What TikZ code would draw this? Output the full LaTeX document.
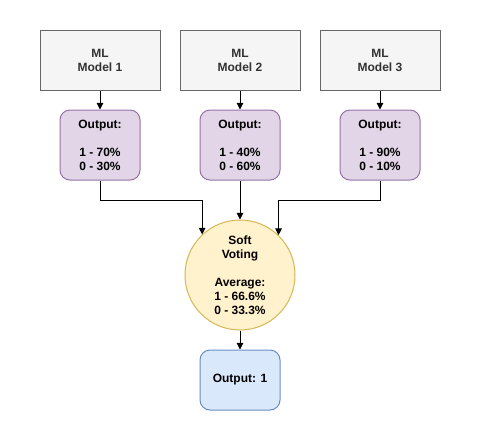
\documentclass[tikz,border=0pt]{standalone}
\usepackage{fontspec}
\setmainfont{Liberation Sans}
\usetikzlibrary{arrows.meta}
\definecolor{grayfill}{HTML}{F5F5F5}
\definecolor{graydraw}{HTML}{666666}
\definecolor{graytext}{HTML}{333333}
\definecolor{purplefill}{HTML}{E1D5E7}
\definecolor{purpledraw}{HTML}{9673A6}
\definecolor{yellowfill}{HTML}{FFF2CC}
\definecolor{yellowdraw}{HTML}{D6B656}
\definecolor{bluefill}{HTML}{DAE8FC}
\definecolor{bluedraw}{HTML}{6C8EBF}
\tikzset{
  base/.style={align=center, inner sep=0pt, line width=0.75pt,
    font=\fontsize{9pt}{10.5pt}\selectfont\bfseries},
  model/.style={base, rectangle, fill=grayfill, draw=graydraw, text=graytext,
    minimum width=90pt, minimum height=45pt},
  outbox/.style={base, rectangle, rounded corners=7.5pt, fill=purplefill, draw=purpledraw,
    minimum width=60pt, minimum height=52.5pt},
  voter/.style={base, circle, fill=yellowfill, draw=yellowdraw, minimum size=82.5pt},
  final/.style={base, rectangle, rounded corners=7.5pt, fill=bluefill, draw=bluedraw,
    minimum width=60pt, minimum height=45pt},
  arr/.style={line width=0.75pt, -{Triangle[length=5pt,width=5pt]}}
}
\begin{document}
\begin{tikzpicture}[x=0.75pt,y=-0.75pt]
\useasboundingbox[fill=white] (0,0) rectangle (479,433);
\node[model] (m1) at (100,60) {ML\\Model 1};
\node[model] (m2) at (240,60) {ML\\Model 2};
\node[model] (m3) at (380,60) {ML\\Model 3};
\node[outbox] (o1) at (100,145) {Output:\\[10.5pt]1 - 70\%\\0 - 30\%};
\node[outbox] (o2) at (240,145) {Output:\\[10.5pt]1 - 40\%\\0 - 60\%};
\node[outbox] (o3) at (380,145) {Output:\\[10.5pt]1 - 90\%\\0 - 10\%};
\node[voter] (sv) at (240,275) {Soft\\Voting\\[10.5pt]Average:\\1 - 66.6\%\\0 - 33.3\%};
\node[final] (fo) at (240,380) {Output: 1};
\draw[arr] (m1) -- (o1);
\draw[arr] (m2) -- (o2);
\draw[arr] (m3) -- (o3);
\draw[arr] (o1.south) -- ++(0,20) -| (sv.133.5);
\draw[arr] (o2) -- (sv);
\draw[arr] (o3.south) -- ++(0,20) -| (sv.46.5);
\draw[arr] (sv) -- (fo);
\end{tikzpicture}
\end{document}
